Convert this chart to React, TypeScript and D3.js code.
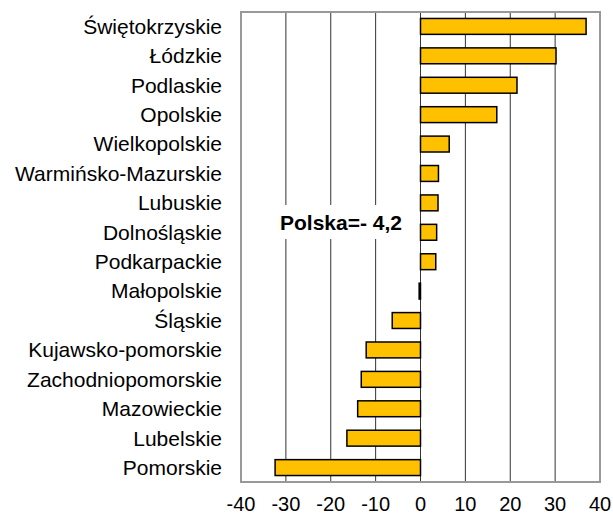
import React from "react";
import * as d3 from "d3";

const categories = [
  "Świętokrzyskie",
  "Łódzkie",
  "Podlaskie",
  "Opolskie",
  "Wielkopolskie",
  "Warmińsko-Mazurskie",
  "Lubuskie",
  "Dolnośląskie",
  "Podkarpackie",
  "Małopolskie",
  "Śląskie",
  "Kujawsko-pomorskie",
  "Zachodniopomorskie",
  "Mazowieckie",
  "Lubelskie",
  "Pomorskie",
];
const values = [36.9, 30.2, 21.5, 17.0, 6.4, 4.0, 3.9, 3.6, 3.4, -0.3, -6.3, -12.1, -13.2, -14.0, -16.4, -32.4];
const xTicks = [-40, -30, -20, -10, 0, 10, 20, 30, 40];
const annotation = "Polska=- 4,2";

const W = 613;
const H = 516;
const left = 241;
const right = 600;
const top = 12;
const bottom = 482;

export default function App() {
  const x = d3.scaleLinear().domain([-40, 40]).range([left, right]);
  const y = d3.scaleBand<string>().domain(categories).range([top, bottom]).paddingInner(0.46).paddingOuter(0.22);
  const font = "Arial, 'Liberation Sans', sans-serif";
  return (
    <svg width={W} height={H} style={{ position: "absolute", left: 0, top: 0, background: "#fff" }}>
      <rect x={0} y={0} width={W} height={H} fill="#fff" />
      {xTicks.map((t) => (
        <line key={"g" + t} x1={x(t)} x2={x(t)} y1={top} y2={bottom} stroke="#333" strokeWidth={1} />
      ))}
      <rect x={275} y={205} width={133} height={34} fill="#fff" />
      <text x={280} y={230} fontFamily={font} fontWeight="bold" fontSize={21} fill="#000">
        {annotation}
      </text>
      {categories.map((c, i) => {
        const v = values[i];
        const x0 = x(Math.min(0, v));
        const x1 = x(Math.max(0, v));
        return (
          <rect
            key={c}
            x={x0}
            y={y(c)}
            width={Math.max(x1 - x0, 0.5)}
            height={y.bandwidth()}
            fill="#FFC000"
            stroke="#000"
            strokeWidth={1.5}
          />
        );
      })}
      <rect x={left} y={top} width={right - left} height={bottom - top} fill="none" stroke="#999" strokeWidth={2} />
      {categories.map((c) => (
        <text
          key={"l" + c}
          x={222}
          y={(y(c) as number) + y.bandwidth() / 2}
          dy="0.35em"
          textAnchor="end"
          fontFamily={font}
          fontSize={21}
          fill="#000"
        >
          {c}
        </text>
      ))}
      {xTicks.map((t) => (
        <text key={"t" + t} x={x(t)} y={511} textAnchor="middle" fontFamily={font} fontSize={20} fill="#000">
          {t}
        </text>
      ))}
    </svg>
  );
}
